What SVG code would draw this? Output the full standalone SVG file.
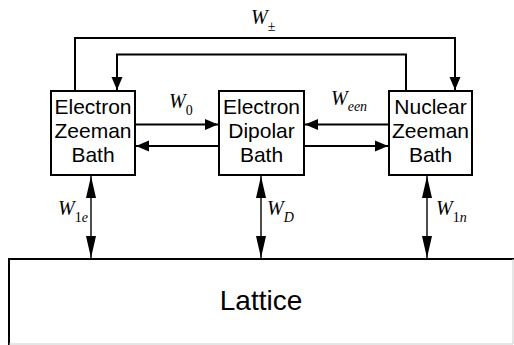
<svg xmlns="http://www.w3.org/2000/svg" width="514" height="345" viewBox="0 0 514 345">
<style>
.box{fill:#fff;stroke:#000;stroke-width:2}
.bt{font-family:"Liberation Sans",Arial,sans-serif;font-size:21px;text-anchor:middle;fill:#000}
.lbl{font-family:"Liberation Serif","Times New Roman",serif;font-style:italic;font-size:20px;fill:#000}
.sub{font-size:14px}
.ln{fill:none;stroke:#000;stroke-width:2}
.vl{fill:none;stroke:#000;stroke-width:1.4}
</style>
<defs>
<marker id="ah" markerUnits="userSpaceOnUse" markerWidth="14" markerHeight="12" refX="13" refY="6" orient="auto-start-reverse">
<path d="M0,0.5 L13,6 L0,11.5 z" fill="#000"/>
</marker>
<marker id="av" markerUnits="userSpaceOnUse" markerWidth="23" markerHeight="11" refX="22" refY="5" orient="auto-start-reverse">
<path d="M0,0 L22,5 L0,10 z" fill="#000"/>
</marker>
</defs>
<g id="lattice">
<path d="M9,345 V259 H514" fill="none" stroke="#000" stroke-width="2"/>
<path d="M513,259 V344 H9" fill="none" stroke="#ccc" stroke-width="1"/>
<text x="261" y="310" font-family="Liberation Sans,Arial,sans-serif" font-size="28" text-anchor="middle">Lattice</text>
</g>
<g id="connectors">
<path class="ln" d="M75,91 V38 H455 V90" marker-end="url(#ah)"/>
<path class="ln" d="M406,91 V54.5 H117 V90" marker-end="url(#ah)"/>
<line class="ln" x1="135" y1="124.5" x2="218" y2="124.5" marker-end="url(#ah)"/>
<line class="ln" x1="219" y1="146" x2="136" y2="146" marker-end="url(#ah)"/>
<line class="ln" x1="389" y1="124.5" x2="305" y2="124.5" marker-end="url(#ah)"/>
<line class="ln" x1="304" y1="146" x2="388" y2="146" marker-end="url(#ah)"/>
<line class="vl" x1="91" y1="176" x2="91" y2="258" marker-start="url(#av)" marker-end="url(#av)"/>
<line class="vl" x1="261" y1="176" x2="261" y2="258" marker-start="url(#av)" marker-end="url(#av)"/>
<line class="vl" x1="427" y1="176" x2="427" y2="258" marker-start="url(#av)" marker-end="url(#av)"/>
<text class="lbl" x="251" y="24">W<tspan class="sub" font-style="normal" dy="7">±</tspan></text>
<text class="lbl" x="169" y="108">W<tspan class="sub" font-style="normal" dy="7">0</tspan></text>
<text class="lbl" x="331" y="105">W<tspan class="sub" dy="6">een</tspan></text>
<text class="lbl" x="58" y="215">W<tspan class="sub" dy="7"><tspan font-style="normal">1</tspan>e</tspan></text>
<text class="lbl" x="267" y="215">W<tspan class="sub" dy="7">D</tspan></text>
<text class="lbl" x="436" y="215">W<tspan class="sub" dy="7"><tspan font-style="normal">1</tspan>n</tspan></text>
</g>
<g id="electron-zeeman">
<rect class="box" x="51" y="91" width="84" height="84"/>
<text class="bt" x="93" y="114">Electron</text>
<text class="bt" x="93" y="138">Zeeman</text>
<text class="bt" x="93" y="162">Bath</text>
</g>
<g id="electron-dipolar">
<rect class="box" x="219" y="91" width="85" height="84"/>
<text class="bt" x="261.5" y="114">Electron</text>
<text class="bt" x="261.5" y="138">Dipolar</text>
<text class="bt" x="261.5" y="162">Bath</text>
</g>
<g id="nuclear-zeeman">
<rect class="box" x="389" y="91" width="83" height="84"/>
<text class="bt" x="430.5" y="114">Nuclear</text>
<text class="bt" x="430.5" y="138">Zeeman</text>
<text class="bt" x="430.5" y="162">Bath</text>
</g>
</svg>
